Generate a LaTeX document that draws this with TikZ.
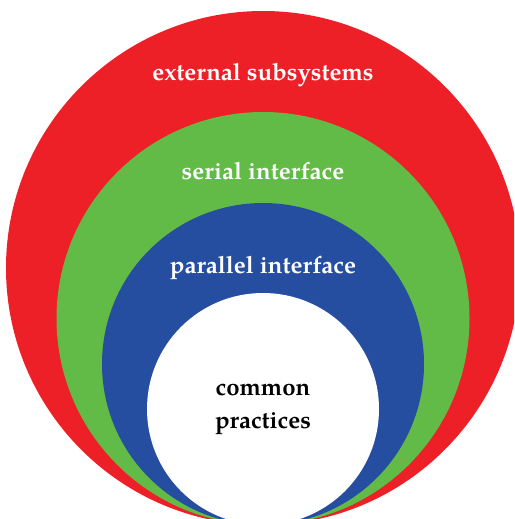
\documentclass[tikz,border=0pt]{standalone}
\usepackage{fontspec}
\setmainfont{texgyrepagella}[Extension=.otf, UprightFont=*-regular, BoldFont=*-bold]
\definecolor{ringred}{RGB}{237,31,39}
\definecolor{ringgreen}{RGB}{98,187,70}
\definecolor{ringblue}{RGB}{38,78,160}
\tikzset{
  ringlabel/.style={font=\bfseries\fontsize{24}{29}\selectfont, text=white, align=center, anchor=base},
  corelabel/.style={font=\bfseries\fontsize{24}{32.6}\selectfont, text=black, align=center, anchor=base}
}
\begin{document}
\begin{tikzpicture}[x=1pt,y=-1pt]
  \useasboundingbox (0,0) rectangle (514,519);
  \clip (0,0) rectangle (514,519);
  % nested discs, all touching at the bottom
  \fill[ringred]   (263,268)   circle[radius=257];
  \fill[ringgreen] (263,318.5) circle[radius=206.5];
  \fill[ringblue]  (263,364)   circle[radius=161];
  \fill[white]     (263,409)   circle[radius=116];
  % labels
  \node[ringlabel] (ext) at (263,80)    {external subsystems};
  \node[ringlabel] (ser) at (263,179.5) {serial interface};
  \node[ringlabel] (par) at (263,273)   {parallel interface};
  \node[corelabel] (com) at (263,428.5) {common\\practices};
\end{tikzpicture}
\end{document}
